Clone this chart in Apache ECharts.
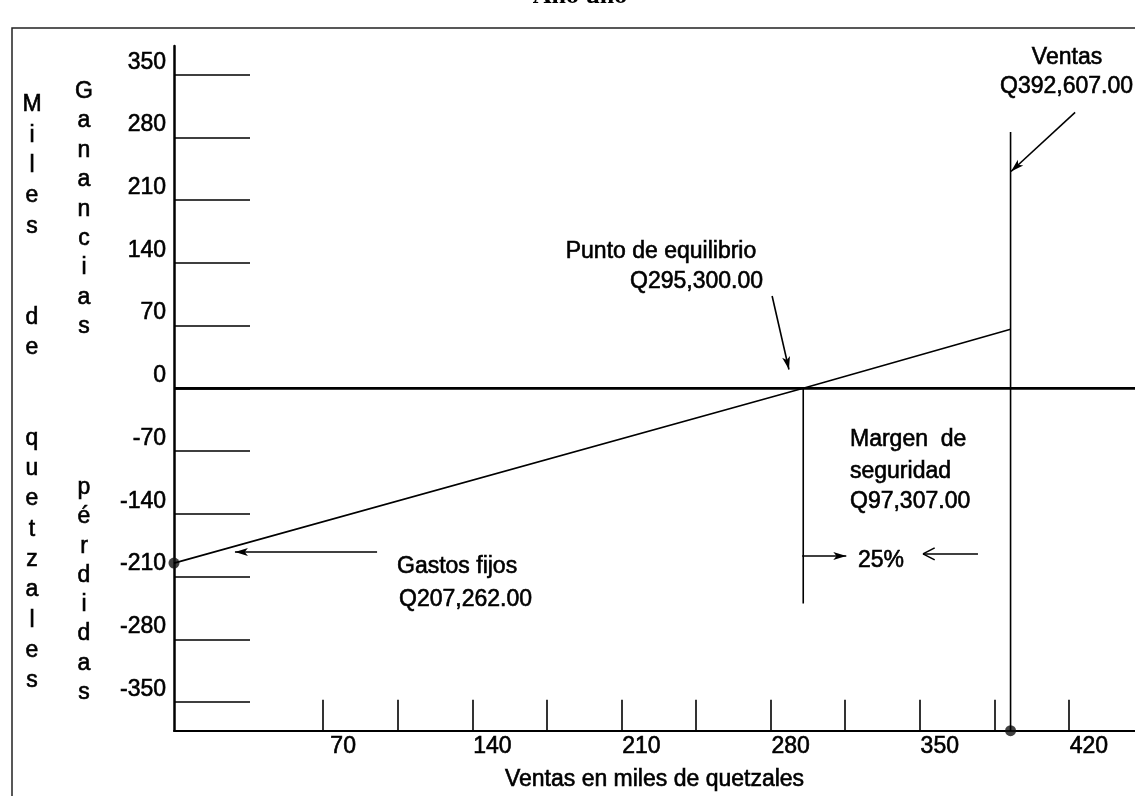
<!DOCTYPE html>
<html>
<head>
<meta charset="utf-8">
<title>Punto de equilibrio</title>
<script src="https://cdn.jsdelivr.net/npm/echarts@6/dist/echarts.min.js"></script>
<style>
  html, body { margin: 0; padding: 0; background: #fff; }
  #main { width: 1135px; height: 796px; }
</style>
</head>
<body>
<div id="main"></div>
<script>
// ejes (miles de quetzales)
var xMin = 0;
var xMax = 451;
var yMin = -382;
var yMax = 382;
var yTickValues = [-350, -280, -210, -140, -70, 0, 70, 140, 210, 280, 350];
var xTickValues = [70, 105, 140, 175, 210, 245, 280, 315, 350, 385, 420];
var xLabelValues = [70, 140, 210, 280, 350, 420];

// recta de ganancias / perdidas
var profitSales = [0, 295.3, 392.6];
var profitValues = [-195, 0, 66];

// lineas verticales
var breakEvenSales = 295.3;
var breakEvenLine = [0, -240];
var salesTotal = 392.6;
var salesLine = [286, -382];

// puntos marcados
var dotSales = [0, 392.6];
var dotValues = [-195, -382];

// flechas: [x inicio, y inicio, x fin, y fin]
var arrowEquilibrio = [280.7, 103, 288.6, 21];
var arrowVentas = [422.9, 308, 392.8, 242];
var arrowMargenDer = [294.8, -187, 315.5, -187];
var arrowMargenIzq = [377.3, -184.7, 351.5, -184.7];
var arrowGastos = [95.3, -182.5, 28.6, -182.5];
// punta abierta de la flecha "<--" (brazos)
var openArms = [
  [351.5, -184.7, 357.0, -178.0],
  [351.5, -184.7, 357.0, -191.4],
];

var FONT = "'Liberation Sans', Arial, sans-serif";

function pairs(xs, ys) {
  var out = [];
  for (var i = 0; i < xs.length; i++) out.push([xs[i], ys[i]]);
  return out;
}

function segs(list) {
  return list.map(function (a) {
    return [{ coord: [a[0], a[1]] }, { coord: [a[2], a[3]] }];
  });
}

function arrow(list, noHead) {
  return {
    silent: true,
    symbol: noHead ? ["none", "none"] : ["none", "arrow"],
    symbolSize: [6, 13],
    label: { show: false },
    emphasis: { disabled: true },
    lineStyle: { color: "#000", width: 1.6, type: "solid" },
    itemStyle: { color: "#000" },
    data: segs(list),
  };
}

function txt(x, y, s, align, extra) {
  var st = {
    text: s,
    x: x,
    y: y,
    align: align || "center",
    verticalAlign: "middle",
    font: "23px " + FONT,
    fill: "#000",
    stroke: "#000",
    lineWidth: 0.6,
  };
  if (extra) for (var k in extra) st[k] = extra[k];
  return { type: "text", silent: true, style: st };
}

var chart = echarts.init(document.getElementById("main"));

var option = {
  animation: false,
  backgroundColor: "#fff",
  grid: { left: 174, right: 0, top: 46, bottom: 58 },
  xAxis: {
    type: "value",
    min: xMin,
    max: xMax,
    axisLine: { show: true, onZero: false, lineStyle: { color: "#000", width: 2 } },
    axisTick: {
      show: true,
      inside: true,
      length: 31,
      customValues: xTickValues,
      lineStyle: { color: "#000", width: 1.6 },
    },
    axisLabel: {
      customValues: xLabelValues,
      margin: 4,
      fontSize: 23,
      fontFamily: FONT,
      color: "#000",
      textBorderColor: "#000",
      textBorderWidth: 0.6,
      padding: [0, 0, 0, 40],
    },
    splitLine: { show: false },
    name: "Ventas en miles de quetzales",
    nameLocation: "middle",
    nameGap: 37,
    nameTextStyle: {
      fontSize: 23,
      fontFamily: FONT,
      color: "#000",
      textBorderColor: "#000",
      textBorderWidth: 0.6,
    },
  },
  yAxis: {
    type: "value",
    min: yMin,
    max: yMax,
    axisLine: { show: true, onZero: false, lineStyle: { color: "#000", width: 2.5 } },
    axisTick: {
      show: true,
      inside: true,
      length: 76,
      customValues: yTickValues,
      lineStyle: { color: "#000", width: 1.5 },
    },
    axisLabel: {
      customValues: yTickValues,
      margin: 8,
      fontSize: 23,
      fontFamily: FONT,
      color: "#000",
      textBorderColor: "#000",
      textBorderWidth: 0.6,
      verticalAlign: "bottom",
      lineHeight: 25,
    },
    splitLine: { show: false },
  },
  series: [
    {
      name: "cero",
      type: "line",
      data: [[xMin, 0], [xMax, 0]],
      symbol: "none",
      lineStyle: { color: "#000", width: 2.6 },
      silent: true,
    },
    {
      name: "ganancias",
      type: "line",
      data: pairs(profitSales, profitValues),
      symbol: "none",
      lineStyle: { color: "#000", width: 1.6 },
      silent: true,
      markLine: arrow([arrowEquilibrio]),
    },
    {
      name: "equilibrio",
      type: "line",
      data: [[breakEvenSales, breakEvenLine[0]], [breakEvenSales, breakEvenLine[1]]],
      symbol: "none",
      lineStyle: { color: "#000", width: 1.6 },
      silent: true,
      markLine: arrow([arrowMargenDer]),
    },
    {
      name: "ventas",
      type: "line",
      data: [[salesTotal, salesLine[0]], [salesTotal, salesLine[1]]],
      symbol: "none",
      lineStyle: { color: "#000", width: 1.6 },
      silent: true,
      markLine: arrow([arrowVentas]),
    },
    {
      name: "margen",
      type: "line",
      data: [],
      markLine: arrow([arrowMargenIzq].concat(openArms), true),
    },
    {
      name: "gastos",
      type: "line",
      data: [],
      markLine: arrow([arrowGastos]),
    },
    {
      name: "puntos",
      type: "scatter",
      data: pairs(dotSales, dotValues),
      symbol: "circle",
      symbolSize: 11,
      clip: false,
      itemStyle: { color: "#111" },
      silent: true,
    },
  ],
  graphic: [
    // marco
    {
      type: "rect",
      silent: true,
      z: -1,
      shape: { x: 12, y: 28, width: 1200, height: 900 },
      style: { fill: "none", stroke: "#222", lineWidth: 1.5 },
    },
    txt(580, 9, "Año uno", "center", {
      font: "bold 26px 'Liberation Serif', 'Times New Roman', serif",
      verticalAlign: "bottom",
      lineWidth: 0,
    }),
    txt(32, 90, "M\ni\nl\ne\ns\n\n\nd\ne\n\n\nq\nu\ne\nt\nz\na\nl\ne\ns", "center", {
      verticalAlign: "top",
      lineHeight: 30.3,
    }),
    txt(84, 77, "G\na\nn\na\nn\nc\ni\na\ns", "center", {
      verticalAlign: "top",
      lineHeight: 29.4,
    }),
    txt(84, 473, "p\né\nr\nd\ni\nd\na\ns", "center", {
      verticalAlign: "top",
      lineHeight: 29.3,
    }),
    txt(661, 252, "Punto de equilibrio"),
    txt(763, 282, "Q295,300.00", "right"),
    txt(1067, 58, "Ventas"),
    txt(1133, 87, "Q392,607.00", "right"),
    txt(850, 440, "Margen  de", "left"),
    txt(850, 472, "seguridad", "left"),
    txt(850, 502, "Q97,307.00", "left"),
    txt(858, 561, "25%", "left"),
    txt(397, 567, "Gastos fijos", "left"),
    txt(399, 600, "Q207,262.00", "left"),
  ],
};

chart.setOption(option);
</script>
</body>
</html>
